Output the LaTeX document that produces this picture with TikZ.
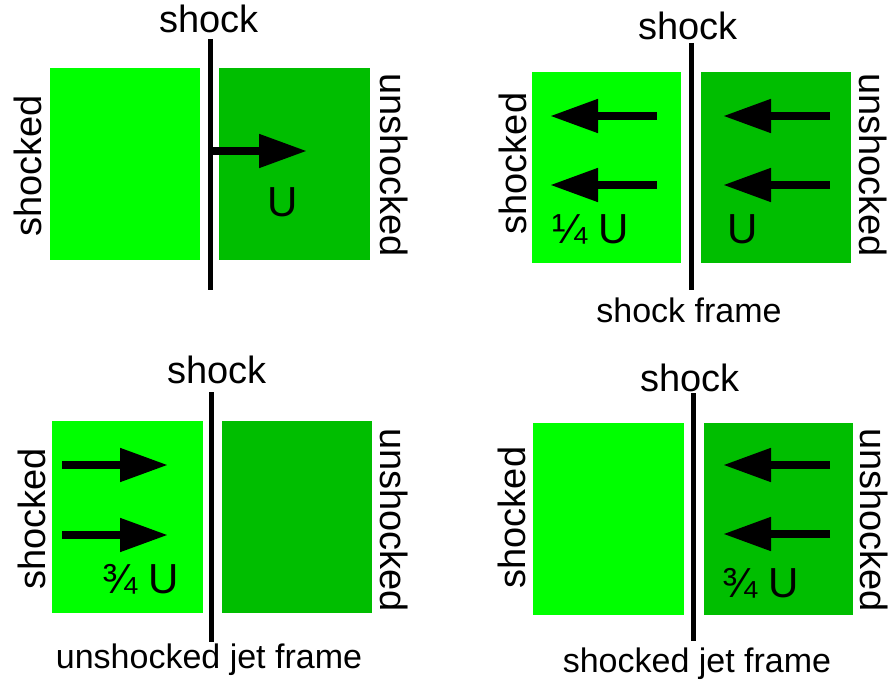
\documentclass[tikz,border=0pt]{standalone}
\usepackage{fontspec}
\setmainfont{Liberation Sans}
\usetikzlibrary{arrows.meta}
\definecolor{shockedgreen}{RGB}{0,255,0}
\definecolor{jetgreen}{RGB}{0,190,0}
\begin{document}
\begin{tikzpicture}[x=1pt,y=-1pt,
  shockedzone/.style={fill=shockedgreen},
  jetzone/.style={fill=jetgreen},
  front/.style={line width=5pt},
  flow/.style={line width=8pt,-{Triangle[length=48pt,width=32pt]}},
  lbl/.style={font=\fontsize{38}{40}\selectfont, inner sep=0pt},
  framelbl/.style={font=\fontsize{34}{36}\selectfont, inner sep=0pt, anchor=base},
  vel/.style={font=\fontsize{42}{44}\selectfont, inner sep=0pt}]
\useasboundingbox (0,0) rectangle (889,682);

% ---------- top left: shock moving into the jet ----------
\fill[shockedzone] (50,68) rectangle (199.5,260);
\fill[jetzone] (219,68) rectangle (370,260);
\coordinate (f1t) at (210,39);
\coordinate (f1b) at (210,290);
\draw[front] (f1t) -- (f1b);
\node[lbl, anchor=base] (sh1) at (209,33) {shock};
\node[lbl, rotate=90] (sd1) at (27.5,166) {shocked};
\node[lbl, rotate=-90] (us1) at (394,165) {unshocked};
\coordinate (a1s) at (210,151);
\coordinate (a1e) at (307,151);
\draw[flow] (a1s) -- (a1e);
\node[vel, anchor=base] (u1) at (283,216) {U};

% ---------- top right: shock frame ----------
\fill[shockedzone] (531.7,72) rectangle (681,263);
\fill[jetzone] (700.7,72) rectangle (851,263);
\coordinate (f2t) at (691.7,43);
\coordinate (f2b) at (691.7,290);
\draw[front] (f2t) -- (f2b);
\node[lbl, anchor=base] (sh2) at (688,40) {shock};
\node[framelbl] (fr2) at (689,322) {shock frame};
\node[lbl, rotate=90] (sd2) at (513,163.5) {shocked};
\node[lbl, rotate=-90] (us2) at (873,165) {unshocked};
\coordinate (b1s) at (656.7,116);
\coordinate (b1e) at (550,116);
\coordinate (b2s) at (656.7,185);
\coordinate (b2e) at (550,185);
\coordinate (b3s) at (830,116);
\coordinate (b3e) at (723,116);
\coordinate (b4s) at (830,185);
\coordinate (b4e) at (723,185);
\draw[flow] (b1s) -- (b1e);
\draw[flow] (b2s) -- (b2e);
\draw[flow] (b3s) -- (b3e);
\draw[flow] (b4s) -- (b4e);
\node[vel, anchor=base west] (u2a) at (552,243) {¼ U};
\node[vel, anchor=base] (u2b) at (743,243) {U};

% ---------- bottom left: unshocked jet frame ----------
\fill[shockedzone] (52,421) rectangle (203,613);
\fill[jetzone] (222,421) rectangle (372,613);
\coordinate (f3t) at (211,392);
\coordinate (f3b) at (211,642);
\draw[front] (f3t) -- (f3b);
\node[lbl, anchor=base] (sh3) at (217,383) {shock};
\node[framelbl] (fr3) at (209,668) {unshocked jet frame};
\node[lbl, rotate=90] (sd3) at (32,519) {shocked};
\node[lbl, rotate=-90] (us3) at (394,520) {unshocked};
\coordinate (c1s) at (62,465);
\coordinate (c1e) at (168,465);
\coordinate (c2s) at (62,535);
\coordinate (c2e) at (168,535);
\draw[flow] (c1s) -- (c1e);
\draw[flow] (c2s) -- (c2e);
\node[vel, anchor=base west] (u3) at (102,593) {¾ U};

% ---------- bottom right: shocked jet frame ----------
\fill[shockedzone] (533,423) rectangle (684,615);
\fill[jetzone] (704,423) rectangle (853,615);
\coordinate (f4t) at (693,393);
\coordinate (f4b) at (693,641);
\draw[front] (f4t) -- (f4b);
\node[lbl, anchor=base] (sh4) at (690,391) {shock};
\node[framelbl] (fr4) at (697,672) {shocked jet frame};
\node[lbl, rotate=90] (sd4) at (512,517.5) {shocked};
\node[lbl, rotate=-90] (us4) at (874,520) {unshocked};
\coordinate (d1s) at (830,465);
\coordinate (d1e) at (723,465);
\coordinate (d2s) at (830,534);
\coordinate (d2e) at (723,534);
\draw[flow] (d1s) -- (d1e);
\draw[flow] (d2s) -- (d2e);
\node[vel, anchor=base west] (u4) at (722,597) {¾ U};
\end{tikzpicture}
\end{document}
